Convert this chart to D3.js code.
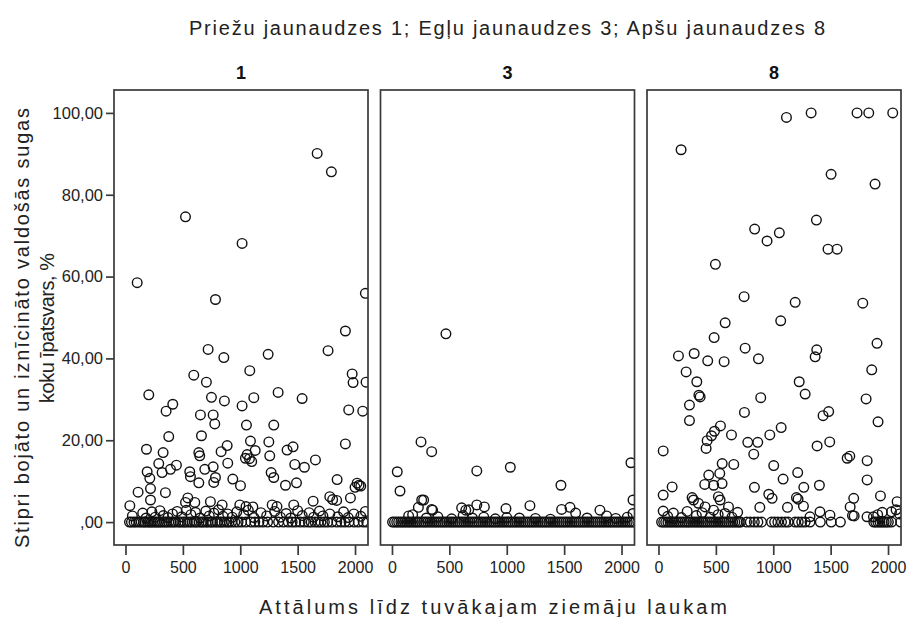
<!DOCTYPE html>
<html><head><meta charset="utf-8">
<script src="https://cdn.jsdelivr.net/npm/d3@7"></script>
<style>
body{margin:0;background:#fff;}
svg{display:block;font-family:"Liberation Sans",Arial,sans-serif;}
</style></head>
<body><svg id="c" width="908" height="617"></svg>
<script>
const chartTitle = "Priežu jaunaudzes 1; Egļu jaunaudzes 3; Apšu jaunaudzes 8";
const panelNames = ["1", "3", "8"];
const yTitleLines = ["Stipri bojāto un iznīcināto valdošās sugas", "koku īpatsvars, %"];
const xTitle = "Attālums līdz tuvākajam ziemāju laukam";
const xTicks = [0, 500, 1000, 1500, 2000];
const yTicks = [0, 20, 40, 60, 80, 100];
const yTickLabels = [",00", "20,00", "40,00", "60,00", "80,00", "100,00"];

// Panel 1 (Priežu jaunaudzes)
const p1Points = [[102,58.5],[523,74.6],[1016,68.1],[1670,90.1],[1794,85.6],
[784,54.4],[2090,55.9],[1916,46.7],[720,42.2],[857,40.2],[1243,41.0],[1765,41.9],[1083,37.0],[595,35.9],[705,34.2],[1975,36.2],[1983,34.1],[2096,34.2],[203,31.1],[749,30.5],[862,29.6],[1118,30.4],[1330,31.7],[1539,30.2],[412,28.8],[354,27.1],[1016,28.4],[653,26.2],[764,26.2],[778,24.0],[1054,23.7],[1292,23.7],[1945,27.4],[2067,27.1],[377,20.9],[662,21.1],[183,17.8],[328,17.0],[639,17.0],[647,16.2],[833,17.2],[886,18.7],[1089,19.8],[1249,19.6],[1045,15.6],[1060,16.5],[1080,15.5],[1130,17.5],[1100,14.8],[1257,16.2],[1408,17.6],[1460,18.4],[1475,14.1],[1559,13.4],[1655,15.2],[1916,19.1],[290,14.3],[392,12.9],[444,13.9],[189,12.3],[319,12.1],[560,12.3],[566,11.1],[639,9.6],[691,12.9],[764,13.5],[784,10.9],[769,9.7],[891,14.4],[935,10.5],[1002,8.9],[1269,12.1],[1292,10.9],[1394,9.0],[1490,9.6],[1844,10.4],[2018,9.5],[2035,9.0],[2000,8.5],[212,10.7],[218,8.2],[110,7.3],[348,7.2],[218,5.4],[38,4.0],[543,5.9],[523,4.8],[604,4.8],[740,5.0],[842,4.2],[996,4.2],[1050,3.8],[1110,3.7],[1278,4.2],[1320,3.8],[1466,4.2],[1635,5.1],[1780,6.2],[1805,5.5],[1840,5.3],[1960,5.9],[2050,8.8],
[60,1.5],[150,2.2],[180,1.0],[230,2.5],[260,1.2],[300,2.8],[330,1.6],[370,1.1],[410,2.0],[450,2.6],[490,1.3],[530,2.9],[570,1.8],[610,2.4],[650,1.0],[700,2.7],[730,1.5],[770,2.2],[810,3.0],[850,1.4],[890,2.0],[930,1.2],[970,2.5],[1030,1.8],[1070,2.9],[1120,1.1],[1180,2.3],[1230,1.5],[1300,2.6],[1350,1.2],[1400,2.1],[1440,1.0],[1500,2.8],[1540,1.6],[1600,2.3],[1640,1.2],[1690,2.7],[1720,1.5],[1780,2.0],[1850,1.3],[1900,2.5],[1940,1.1],[1990,2.0],[2050,1.4],[2090,2.6]];
const p1ZeroX = [35,52,74,93,118,137,158,171,192,207,223,238,256,272,288,303,322,341,358,377,398,417,436,462,478,501,517,538,561,579,603,618,641,662,677,702,718,743,757,782,801,823,838,861,884,902,925,953,981,1012,1048,1093,1127,1163,1198,1238,1287,1334,1376,1418,1452,1483,1522,1558,1593,1618,1652,1679,1703,1733,1762,1798,1841,1878,1912,1948,1992,2028,2071,2102];

// Panel 3 (Egļu jaunaudzes)
const p2Points = [[470,46.0],[253,19.6],[346,17.2],[46,12.3],[70,7.6],[739,12.5],[1031,13.4],[1472,9.0],[2082,14.5],[2100,5.4],[2100,2.1],[259,5.4],[230,3.6],[276,5.4],[346,3.1],[354,2.9],[607,3.5],[643,2.9],[739,4.2],[805,3.7],[669,3.0],[993,3.3],[1202,4.0],[1478,3.1],[1551,3.6],[1600,2.2],[1812,2.9],[1870,1.5],[145,1.5],[800,1.2],[1110,1.0],
[180,1.8],[300,1.0],[400,1.3],[520,0.8],[620,1.6],[700,1.0],[900,0.8],[1000,1.1],[1250,0.9],[1380,0.7],[1700,1.0],[1950,0.9],[2050,1.2]];
const p2ZeroX = [5,22,41,58,77,95,112,131,148,166,185,203,219,238,257,276,293,312,331,349,368,386,404,423,441,459,478,497,515,533,552,571,589,607,626,644,663,681,700,718,737,755,774,792,811,829,848,866,885,903,922,940,959,977,996,1014,1033,1051,1070,1088,1107,1125,1144,1162,1181,1199,1218,1236,1255,1273,1292,1310,1329,1347,1366,1384,1403,1421,1440,1458,1477,1495,1514,1532,1551,1569,1588,1606,1625,1643,1662,1680,1699,1717,1736,1754,1773,1791,1810,1828,1847,1865,1884,1902,1921,1939,1958,1976,1995,2013,2032,2050,2069,2087,2105];

// Panel 8 (Apšu jaunaudzes)
const p3Points = [[1115,98.9],[1330,100],[1730,100],[1832,100],[2041,100],[197,91.0],[1504,85.0],[1887,82.6],[1376,73.8],[838,71.6],[946,68.7],[1053,70.7],[1477,66.7],[1556,66.7],[496,63.0],[746,55.1],[1191,53.7],[1780,53.5],[581,48.7],[1065,49.2],[1904,43.7],[485,45.1],[755,42.5],[174,40.6],[311,41.2],[429,39.4],[572,39.2],[871,39.9],[1379,42.1],[1365,40.4],[241,36.7],[1858,37.2],[334,34.3],[1226,34.3],[1278,31.3],[363,30.6],[352,31.0],[891,30.4],[1809,30.1],[270,28.6],[749,26.8],[1434,26.0],[1483,27.0],[270,24.8],[1913,24.5],[540,23.5],[488,22.2],[462,21.1],[424,19.9],[415,18.0],[636,21.3],[778,19.5],[865,19.5],[830,16.6],[970,21.3],[1069,23.1],[1382,18.6],[1492,19.6],[1644,15.6],[1667,16.1],[1818,15.0],[41,17.4],[555,14.3],[656,14.1],[1004,13.8],[1213,12.1],[438,11.5],[534,11.9],[403,9.2],[481,9.0],[554,9.4],[1086,10.5],[836,8.5],[1266,8.5],[1402,9.0],[1818,10.3],[119,8.6],[41,6.6],[961,6.8],[990,5.8],[1202,6.0],[1216,5.6],[293,6.0],[305,5.4],[348,4.6],[406,3.7],[522,6.2],[537,5.4],[610,3.7],[1701,5.8],[1934,6.4],[2079,5.0],[1670,3.7],[883,3.6],[1124,3.6],[1263,3.9],[1320,1.3],[1407,2.5],[1494,1.7],[1705,1.5],[1817,1.3],[1690,1.6],[1873,1.3],[1910,1.8],[1950,2.4],[2030,2.5],[2070,3.0],[2100,2.0],[41,2.7],
[80,1.4],[130,2.2],[200,1.1],[250,2.6],[330,1.6],[380,2.3],[450,1.2],[480,2.9],[520,1.8],[580,2.1],[640,1.2],[690,2.4]];
const p3ZeroX = [27,45,63,82,101,118,137,155,172,190,209,228,246,263,281,300,318,336,354,373,390,409,427,446,464,482,500,519,537,556,574,592,611,629,648,666,685,703,715,768,800,835,866,898,985,1012,1040,1072,1104,1130,1190,1218,1248,1278,1320,1410,1505,1585,1876,1893,1912,1930,1948,1966,1985,2003,2030,2110];

const panels = [
  {name: panelNames[0], pts: p1Points.concat(p1ZeroX.map(x => [x, 0]))},
  {name: panelNames[1], pts: p2Points.concat(p2ZeroX.map(x => [x, 0]))},
  {name: panelNames[2], pts: p3Points.concat(p3ZeroX.map(x => [x, 0]))}
];

const svg = d3.select("#c");
const panelLeft = [114, 380.5, 647];
const pw = 254, plotTop = 90, ph = 455;
const xs = d3.scaleLinear().domain([-100, 2113]).range([0, pw]);
const ys = d3.scaleLinear().domain([-5.6, 105.6]).range([ph, 0]);
const frameColor = "#3a3a3a";
const textColor = "#222";

svg.append("text").attr("x", 507).attr("y", 35).attr("text-anchor", "middle")
  .attr("font-size", 20).attr("fill", textColor)
  .attr("textLength", 636).attr("lengthAdjust", "spacing").text(chartTitle);

const defs = svg.append("defs");
panels.forEach((p, i) => {
  const g = svg.append("g").attr("transform", `translate(${panelLeft[i]},${plotTop})`);
  defs.append("clipPath").attr("id", "clip" + i).append("rect").attr("width", pw).attr("height", ph);
  g.append("text").attr("x", pw / 2).attr("y", -11).attr("text-anchor", "middle")
    .attr("font-size", 18).attr("font-weight", "bold").attr("fill", "#111").text(p.name);
  g.append("g").attr("clip-path", `url(#clip${i})`).selectAll("circle").data(p.pts).join("circle")
    .attr("cx", d => xs(d[0])).attr("cy", d => ys(d[1])).attr("r", 4.8)
    .attr("fill", "none").attr("stroke", "#111").attr("stroke-width", 1.4);
  g.append("rect").attr("width", pw).attr("height", ph).attr("fill", "none")
    .attr("stroke", frameColor).attr("stroke-width", 1.7);
  const xa = g.append("g").attr("transform", `translate(0,${ph})`)
    .call(d3.axisBottom(xs).tickValues(xTicks).tickSize(10).tickPadding(7).tickFormat(d3.format("d")));
  xa.select(".domain").remove();
  xa.selectAll("line").attr("stroke", frameColor).attr("stroke-width", 1.7);
  xa.selectAll("text").attr("font-size", 16).attr("fill", textColor).attr("font-family", "Liberation Sans, Arial, sans-serif");
  if (i === 0) {
    const ya = g.append("g")
      .call(d3.axisLeft(ys).tickValues(yTicks).tickSize(8).tickPadding(3).tickFormat((d, k) => yTickLabels[k]));
    ya.select(".domain").remove();
    ya.selectAll("line").attr("stroke", frameColor).attr("stroke-width", 1.7);
    ya.selectAll("text").attr("font-size", 16.5).attr("fill", textColor).attr("font-family", "Liberation Sans, Arial, sans-serif");
  }
});

svg.append("text").attr("x", 493).attr("y", 614).attr("text-anchor", "middle")
  .attr("font-size", 20).attr("fill", textColor)
  .attr("textLength", 468).attr("lengthAdjust", "spacing").text(xTitle);
const yt = svg.append("text").attr("transform", "translate(0,328) rotate(-90)")
  .attr("text-anchor", "middle").attr("font-size", 20).attr("fill", textColor);
yt.append("tspan").attr("x", 0).attr("y", 29).attr("textLength", 440).attr("lengthAdjust", "spacing").text(yTitleLines[0]);
yt.append("tspan").attr("x", 0).attr("y", 54).attr("textLength", 150).attr("lengthAdjust", "spacing").text(yTitleLines[1]);
</script></body></html>
